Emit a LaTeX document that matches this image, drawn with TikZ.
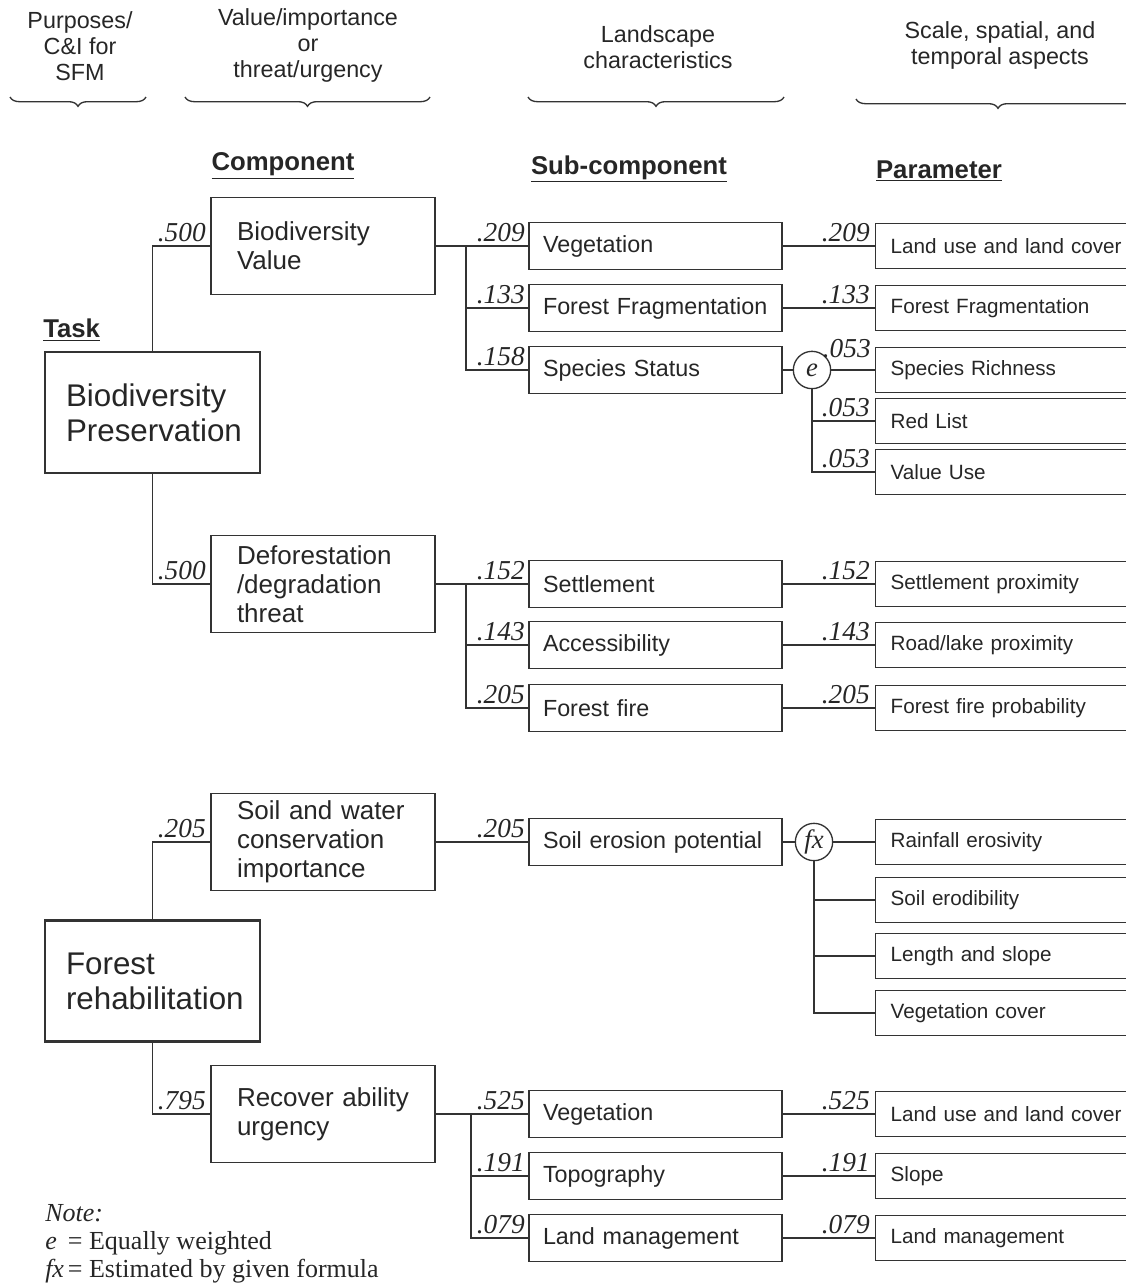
\documentclass[tikz,border=0pt]{standalone}
\usepackage{fontspec}
\setmainfont{Liberation Sans}
\newfontfamily\timesfont{Liberation Serif}
\usetikzlibrary{decorations.pathreplacing,calc}

\tikzset{
  ink/.style={draw=black!80, line width=1pt},
  every node/.style={text=black!85},
  taskbox/.style={draw=black!80, line width=2pt, rectangle,
    minimum width=161.25pt, minimum height=90.75pt, inner xsep=15.75pt, inner ysep=0pt,
    text width=129.75pt, align=left, font=\fontsize{23.5pt}{26.25pt}\selectfont},
  compbox/.style={ink, rectangle,
    minimum width=168pt, minimum height=72.75pt, inner xsep=19.5pt, inner ysep=0pt,
    text width=129pt, align=left, font=\fontsize{19.5pt}{21.75pt}\selectfont},
  subbox/.style={ink, rectangle,
    minimum width=189.75pt, minimum height=35.25pt, inner xsep=10.5pt, inner ysep=0pt,
    text width=168.75pt, align=left, font=\fontsize{17.5pt}{20pt}\selectfont},
  parbox/.style={ink, rectangle, anchor=west,
    minimum width=225pt, minimum height=33.75pt, inner xsep=11.25pt, inner ysep=0pt,
    text width=202.5pt, align=left, font=\fontsize{15.5pt}{18pt}\selectfont},
  wt/.style={anchor=base east, inner sep=0pt, font=\timesfont\itshape\fontsize{20.5pt}{22pt}\selectfont},
  opnode/.style={ink, circle, minimum size=28pt, inner sep=0pt,
    font=\timesfont\itshape\fontsize{20pt}{22pt}\selectfont},
  header/.style={align=center, font=\fontsize{17.5pt}{19.5pt}\selectfont},
  colhead/.style={font=\bfseries\fontsize{19.3pt}{22pt}\selectfont},
  notetext/.style={anchor=base west, inner sep=0pt, font=\timesfont\fontsize{19.5pt}{22pt}\selectfont},
  bracket/.style={ink, decorate, decoration={brace, mirror, amplitude=7pt}},
}

\begin{document}
\begin{tikzpicture}[x=0.75pt, y=-0.75pt]
\path[use as bounding box, clip] (0,0) rectangle (1126,1283);

% column captions with braces
\node[header] (h1) at (80,46) {Purposes/\\C\&I for\\SFM};
\node[header] (h2) at (308,45) {Value/importance\\or\\threat/urgency};
\node[header] (h3) at (658,47) {Landscape\\characteristics};
\node[header] (h4) at (1000,45) {Scale, spatial, and\\temporal aspects};
\draw[bracket] (10,97) -- (146,97);
\draw[bracket] (185,97) -- (430,97);
\draw[bracket] (528,97) -- (784,97);
\draw[bracket] (856,99) -- (1140,99);

% level headings
\node[colhead] (hc) at (283,166) {\underline{Component}};
\node[colhead] (hs) at (629,169) {\underline{Sub-component}};
\node[colhead] (hp) at (939,171) {\underline{Parameter}};
\node[colhead, anchor=west, inner sep=0pt] (ht) at (43,330) {\underline{Task}};

% tasks
\node[taskbox] (bp) at (152.5,412.5) {Biodiversity\\Preservation};
\node[taskbox] (fr) at (152.5,981) {Forest\\rehabilitation};

% components
\node[compbox] (bv) at (323,246) {Biodiversity\\Value};
\node[compbox] (dt) at (323,584) {Deforestation\\/degradation\\threat};
\node[compbox] (sw) at (323,842) {Soil and water\\conservation\\importance};
\node[compbox] (ru) at (323,1114) {Recover ability\\urgency};

% sub-components
\node[subbox] (s1) at (655.5,246) {Vegetation};
\node[subbox] (s2) at (655.5,308) {Forest Fragmentation};
\node[subbox] (s3) at (655.5,370) {Species Status};
\node[subbox] (s4) at (655.5,584) {Settlement};
\node[subbox] (s5) at (655.5,645) {Accessibility};
\node[subbox] (s6) at (655.5,708) {Forest fire};
\node[subbox] (s7) at (655.5,842) {Soil erosion potential};
\node[subbox] (s8) at (655.5,1114) {Vegetation};
\node[subbox] (s9) at (655.5,1176) {Topography};
\node[subbox] (s10) at (655.5,1238) {Land management};

% parameters
\node[parbox] (p1) at (875,246) {Land use and land cover};
\node[parbox] (p2) at (875,308) {Forest Fragmentation};
\node[parbox] (p3) at (875,370) {Species Richness};
\node[parbox] (p4) at (875,421) {Red List};
\node[parbox] (p5) at (875,472) {Value Use};
\node[parbox] (p6) at (875,584) {Settlement proximity};
\node[parbox] (p7) at (875,645) {Road/lake proximity};
\node[parbox] (p8) at (875,708) {Forest fire probability};
\node[parbox] (p9) at (875,842) {Rainfall erosivity};
\node[parbox] (p10) at (875,900) {Soil erodibility};
\node[parbox] (p11) at (875,956) {Length and slope};
\node[parbox] (p12) at (875,1013) {Vegetation cover};
\node[parbox] (p13) at (875,1114) {Land use and land cover};
\node[parbox] (p14) at (875,1176) {Slope};
\node[parbox] (p15) at (875,1238) {Land management};

% aggregation operators
\node[opnode] (e) at (812,370) {e};
\node[opnode] (fx) at (814,842) {fx};

% task -> component
\draw[ink] (bp.north) |- (bv.west);
\draw[ink] (bp.south) |- (dt.west);
\draw[ink] (fr.north) |- (sw.west);
\draw[ink] (fr.south) |- (ru.west);

% component -> sub-component
\coordinate (b1) at (466,246);
\coordinate (b2) at (466,584);
\coordinate (b4) at (471,1114);
\draw[ink] (bv.east) -- (s1.west);
\draw[ink] (b1) |- (s2.west);
\draw[ink] (b1) |- (s3.west);
\draw[ink] (dt.east) -- (s4.west);
\draw[ink] (b2) |- (s5.west);
\draw[ink] (b2) |- (s6.west);
\draw[ink] (sw.east) -- (s7.west);
\draw[ink] (ru.east) -- (s8.west);
\draw[ink] (b4) |- (s9.west);
\draw[ink] (b4) |- (s10.west);

% sub-component -> parameter
\draw[ink] (s1.east) -- (p1.west);
\draw[ink] (s2.east) -- (p2.west);
\draw[ink] (s3.east) -- (e.west);
\draw[ink] (e.east) -- (p3.west);
\draw[ink] (e.south) |- (p4.west);
\draw[ink] (e.south) |- (p5.west);
\draw[ink] (s4.east) -- (p6.west);
\draw[ink] (s5.east) -- (p7.west);
\draw[ink] (s6.east) -- (p8.west);
\draw[ink] (s7.east) -- (fx.west);
\draw[ink] (fx.east) -- (p9.west);
\draw[ink] (fx.south) |- (p10.west);
\draw[ink] (fx.south) |- (p11.west);
\draw[ink] (fx.south) |- (p12.west);
\draw[ink] (s8.east) -- (p13.west);
\draw[ink] (s9.east) -- (p14.west);
\draw[ink] (s10.east) -- (p15.west);

% weights
\node[wt] (wbv) at (206,241) {.500};
\node[wt] (wdt) at (206,579) {.500};
\node[wt] (wsw) at (206,837) {.205};
\node[wt] (wru) at (206,1109) {.795};

\node[wt] (ws1) at (525,241) {.209};
\node[wt] (ws2) at (525,303) {.133};
\node[wt] (ws3) at (525,365) {.158};
\node[wt] (ws4) at (525,579) {.152};
\node[wt] (ws5) at (525,640) {.143};
\node[wt] (ws6) at (525,703) {.205};
\node[wt] (ws7) at (525,837) {.205};
\node[wt] (ws8) at (525,1109) {.525};
\node[wt] (ws9) at (525,1171) {.191};
\node[wt] (ws10) at (525,1233) {.079};

\node[wt] (wp1) at (870,241) {.209};
\node[wt] (wp2) at (870,303) {.133};
\node[wt] (wp3) at (871,357) {.053};
\node[wt] (wp4) at (870,416) {.053};
\node[wt] (wp5) at (870,467) {.053};
\node[wt] (wp6) at (870,579) {.152};
\node[wt] (wp7) at (870,640) {.143};
\node[wt] (wp8) at (870,703) {.205};
\node[wt] (wp13) at (870,1109) {.525};
\node[wt] (wp14) at (870,1171) {.191};
\node[wt] (wp15) at (870,1233) {.079};

% legend
\node[notetext] (n1) at (45,1221) {\itshape Note:};
\node[notetext] (n2) at (45,1249) {\makebox[17pt][l]{\itshape e}= Equally weighted};
\node[notetext] (n3) at (45,1277) {\makebox[17pt][l]{\itshape fx}= Estimated by given formula};
\end{tikzpicture}
\end{document}
